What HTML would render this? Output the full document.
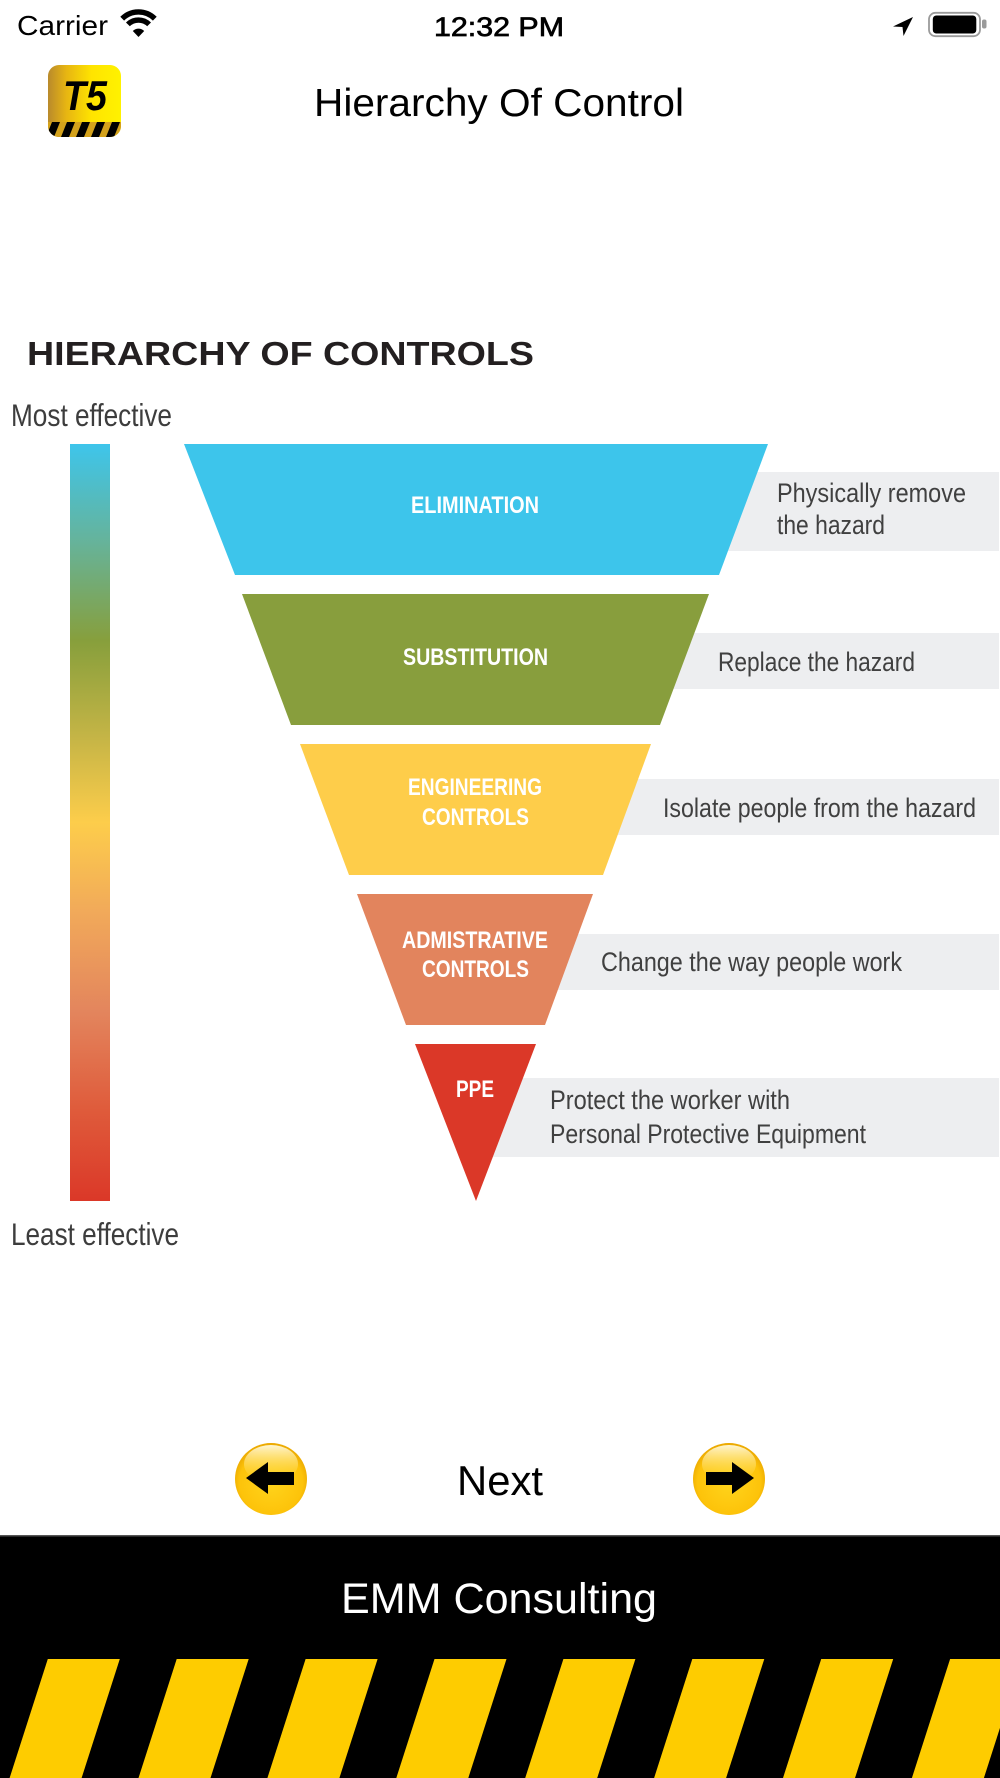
<!DOCTYPE html>
<html><head><meta charset="utf-8"><title>Hierarchy Of Control</title>
<style>html,body{margin:0;padding:0;background:#fff;width:1000px;height:1778px;overflow:hidden}svg{display:block}</style>
</head><body>
<svg width="1000" height="1778" viewBox="0 0 1000 1778" xmlns="http://www.w3.org/2000/svg" font-family="'Liberation Sans', sans-serif">
<defs>
<linearGradient id="bar" x1="0" y1="0" x2="0" y2="1">
 <stop offset="0" stop-color="#3ec5eb"/>
 <stop offset="0.13" stop-color="#66b39a"/>
 <stop offset="0.26" stop-color="#879f3c"/>
 <stop offset="0.39" stop-color="#c6b546"/>
 <stop offset="0.5" stop-color="#fdcd4b"/>
 <stop offset="0.62" stop-color="#f1a95a"/>
 <stop offset="0.75" stop-color="#e3855d"/>
 <stop offset="0.88" stop-color="#df5b3b"/>
 <stop offset="1" stop-color="#db3828"/>
</linearGradient>
<radialGradient id="btn" cx="0.5" cy="0.55" r="0.55">
 <stop offset="0" stop-color="#ffd41c"/>
 <stop offset="0.8" stop-color="#fdc30a"/>
 <stop offset="1" stop-color="#eaa700"/>
</radialGradient>
<linearGradient id="gloss" x1="0" y1="0" x2="0" y2="1">
 <stop offset="0" stop-color="#fff6d2" stop-opacity="1"/>
 <stop offset="1" stop-color="#ffd83c" stop-opacity="0"/>
</linearGradient>
<linearGradient id="logo" x1="0" y1="0" x2="1" y2="0">
 <stop offset="0" stop-color="#b98a2c"/>
 <stop offset="0.25" stop-color="#e7b512"/>
 <stop offset="0.6" stop-color="#ffe400"/>
 <stop offset="1" stop-color="#fff200"/>
</linearGradient>
<clipPath id="logoclip"><rect x="48" y="65" width="73" height="72" rx="11"/></clipPath>
</defs>

<!-- status bar -->
<text x="17" y="35" font-size="28" fill="#000" textLength="91" lengthAdjust="spacingAndGlyphs">Carrier</text>
<g fill="none" stroke="#000" stroke-width="5.4">
 <path d="M122.2,18.7 A23 23 0 0 1 154.8,18.7"/>
 <path d="M127.9,24.4 A15 15 0 0 1 149.1,24.4"/>
</g>
<path d="M138.5,37 L132.8,31 A8 8 0 0 1 144.2,31 Z" fill="#000"/>
<text x="434" y="36" font-size="26.5" fill="#000" stroke="#000" stroke-width="0.7" textLength="130" lengthAdjust="spacingAndGlyphs">12:32 PM</text>
<path d="M913,17 L893,26.5 L902.5,27 L903.5,36 Z" fill="#000"/>
<rect x="929" y="12.8" width="51" height="23.4" rx="6.5" fill="none" stroke="#9a9a9a" stroke-width="1.8"/>
<rect x="932.8" y="15.5" width="43.5" height="18" rx="3.5" fill="#000"/>
<rect x="982" y="19.5" width="4.5" height="9" rx="2" fill="#9a9a9a"/>

<!-- logo -->
<g clip-path="url(#logoclip)">
 <rect x="48" y="65" width="73" height="72" fill="url(#logo)"/>
 <rect x="48" y="122" width="73" height="15" fill="#d4a21c"/>
 <polygon points="52,122 60,122 54,137 46,137" fill="#000"/>
 <polygon points="67,122 75,122 69,137 61,137" fill="#000"/>
 <polygon points="82,122 90,122 84,137 76,137" fill="#000"/>
 <polygon points="97,122 105,122 99,137 91,137" fill="#000"/>
 <polygon points="112,122 120,122 114,137 106,137" fill="#000"/>
</g>
<text x="63" y="110" font-size="42" font-weight="bold" font-style="italic" fill="#000" textLength="44" lengthAdjust="spacingAndGlyphs">T5</text>

<!-- title -->
<text x="314" y="116" font-size="39" fill="#000" textLength="370" lengthAdjust="spacingAndGlyphs">Hierarchy Of Control</text>

<!-- diagram heading -->
<text x="27" y="365" font-size="33.5" font-weight="bold" fill="#231f20" textLength="507" lengthAdjust="spacingAndGlyphs">HIERARCHY OF CONTROLS</text>
<text x="11" y="426" font-size="31.5" fill="#3d3d3d" textLength="161" lengthAdjust="spacingAndGlyphs">Most effective</text>
<text x="11" y="1245" font-size="31.5" fill="#3d3d3d" textLength="168" lengthAdjust="spacingAndGlyphs">Least effective</text>

<!-- gradient bar -->
<rect x="70" y="444" width="40" height="757" fill="url(#bar)"/>

<!-- gray boxes -->
<g fill="#edeef0">
 <rect x="700" y="472" width="299" height="79"/>
 <rect x="650" y="633" width="349" height="56"/>
 <rect x="595" y="779" width="404" height="56"/>
 <rect x="530" y="934" width="469" height="56"/>
 <rect x="470" y="1078" width="529" height="79"/>
</g>

<!-- trapezoids -->
<polygon points="184,444 768,444 719,575 235,575" fill="#3dc5eb"/>
<polygon points="242,594 709,594 660,725 291,725" fill="#889e3d"/>
<polygon points="300,744 651,744 603,875 349,875" fill="#fecd4a"/>
<polygon points="357,894 593,894 545,1025 406,1025" fill="#e2845d"/>
<polygon points="415,1044 536,1044 476,1201" fill="#db3828"/>

<!-- labels inside -->
<g font-size="24" font-weight="bold" fill="#fff">
 <text x="411" y="513" textLength="128" lengthAdjust="spacingAndGlyphs">ELIMINATION</text>
 <text x="403" y="665" textLength="145" lengthAdjust="spacingAndGlyphs">SUBSTITUTION</text>
 <text x="408" y="795" textLength="134" lengthAdjust="spacingAndGlyphs">ENGINEERING</text>
 <text x="422" y="825" textLength="107" lengthAdjust="spacingAndGlyphs">CONTROLS</text>
 <text x="402" y="948" textLength="146" lengthAdjust="spacingAndGlyphs">ADMISTRATIVE</text>
 <text x="422" y="977" textLength="107" lengthAdjust="spacingAndGlyphs">CONTROLS</text>
 <text x="456" y="1097" textLength="38" lengthAdjust="spacingAndGlyphs">PPE</text>
</g>

<!-- descriptions -->
<g font-size="26.5" fill="#404040">
 <text x="777" y="502" textLength="189" lengthAdjust="spacingAndGlyphs">Physically remove</text>
 <text x="777" y="534" textLength="108" lengthAdjust="spacingAndGlyphs">the hazard</text>
 <text x="718" y="671" textLength="197" lengthAdjust="spacingAndGlyphs">Replace the hazard</text>
 <text x="663" y="817" textLength="313" lengthAdjust="spacingAndGlyphs">Isolate people from the hazard</text>
 <text x="601" y="971" textLength="301" lengthAdjust="spacingAndGlyphs">Change the way people work</text>
 <text x="550" y="1109" textLength="240" lengthAdjust="spacingAndGlyphs">Protect the worker with</text>
 <text x="550" y="1143" textLength="316" lengthAdjust="spacingAndGlyphs">Personal Protective Equipment</text>
</g>

<!-- nav buttons -->
<g>
 <circle cx="271" cy="1479" r="36" fill="url(#btn)"/>
 <ellipse cx="271" cy="1464" rx="27" ry="19" fill="url(#gloss)"/>
 <polygon points="246,1478 268,1462 268,1472 294,1472 294,1485 268,1485 268,1494" fill="#000"/>
</g>
<g>
 <circle cx="729" cy="1479" r="36" fill="url(#btn)"/>
 <ellipse cx="729" cy="1464" rx="27" ry="19" fill="url(#gloss)"/>
 <polygon points="754,1478 732,1462 732,1472 706,1472 706,1485 732,1485 732,1494" fill="#000"/>
</g>
<text x="457" y="1495" font-size="42" fill="#000" textLength="86" lengthAdjust="spacingAndGlyphs">Next</text>

<!-- footer -->
<rect x="0" y="1535" width="1000" height="243" fill="#000"/>
<rect x="0" y="1535" width="1000" height="1.5" fill="#555"/>
<text x="341" y="1613" font-size="43" fill="#fff" textLength="316" lengthAdjust="spacingAndGlyphs">EMM Consulting</text>
<g fill="#fecc00">
 <polygon points="47.8,1659 119.8,1659 81.6,1778 9.6,1778"/>
 <polygon points="176.7,1659 248.7,1659 210.5,1778 138.5,1778"/>
 <polygon points="305.6,1659 377.6,1659 339.4,1778 267.4,1778"/>
 <polygon points="434.5,1659 506.5,1659 468.3,1778 396.3,1778"/>
 <polygon points="563.4,1659 635.4,1659 597.2,1778 525.2,1778"/>
 <polygon points="692.3,1659 764.3,1659 726.1,1778 654.1,1778"/>
 <polygon points="821.2,1659 893.2,1659 855,1778 783,1778"/>
 <polygon points="950.1,1659 1022.1,1659 983.9,1778 911.9,1778"/>
</g>
</svg>
</body></html>
